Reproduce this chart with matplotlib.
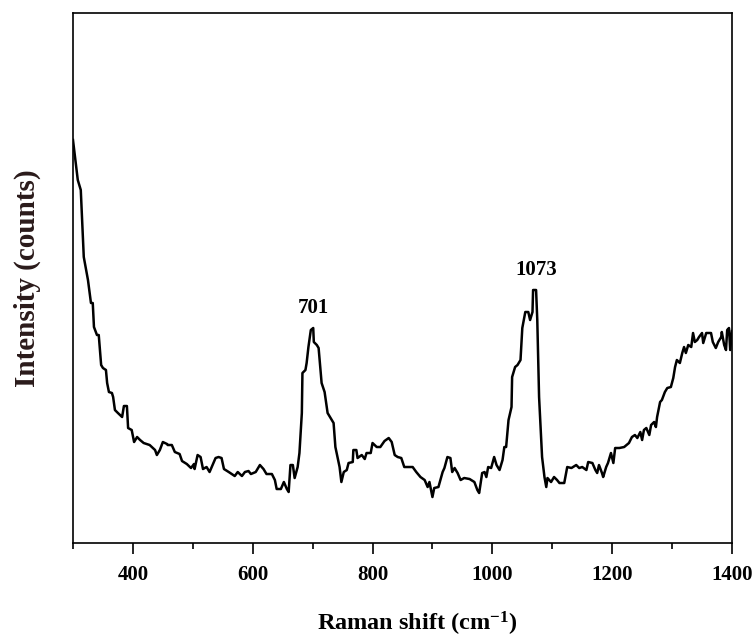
import matplotlib
matplotlib.use("Agg")
import matplotlib.pyplot as plt
from matplotlib.ticker import MultipleLocator

plt.rcParams['font.family'] = ['Liberation Serif', 'DejaVu Serif']
plt.rcParams['font.weight'] = 'bold'
plt.rcParams['mathtext.fontset'] = 'custom'
plt.rcParams['mathtext.rm'] = 'Liberation Serif:bold'
plt.rcParams['mathtext.it'] = 'Liberation Serif:bold'
plt.rcParams['mathtext.bf'] = 'Liberation Serif:bold'

# Raman spectrum (wavenumber in cm^-1, intensity in counts, arbitrary scale)
shift = [
    300, 308, 313, 318, 325, 330, 333, 335, 340, 343, 347, 350, 355, 357, 360,
    365, 367, 370, 375, 382, 385, 390, 392, 398, 402, 407, 412, 418, 428, 437,
    440, 445, 450, 457, 458, 465, 470, 478, 482, 490, 497, 502, 503, 508, 513,
    517, 523, 528, 533, 538, 543, 548, 552, 560, 570, 575, 582, 587, 593, 597,
    605, 612, 618, 623, 632, 637, 640, 647, 652, 657, 660, 663, 667, 670, 675,
    678, 682, 683, 688, 690, 693, 697, 701, 702, 707, 710, 715, 720, 725, 732,
    735, 738, 745, 748, 752, 757, 760, 767, 768, 773, 775, 782, 787, 790, 797,
    800, 807, 813, 820, 827, 832, 837, 842, 848, 853, 862, 867, 873, 880, 887,
    892, 895, 900, 903, 910, 917, 920, 925, 930, 933, 937, 942, 947, 953, 962,
    970, 975, 978, 983, 987, 990, 993, 998, 1003, 1007, 1012, 1017, 1020, 1023, 1027,
    1032, 1033, 1038, 1042, 1047, 1050, 1055, 1060, 1063, 1067, 1068, 1073, 1075, 1078, 1083,
    1087, 1090, 1092, 1098, 1103, 1108, 1112, 1120, 1125, 1132, 1140, 1145, 1150, 1157, 1160,
    1167, 1172, 1175, 1178, 1183, 1185, 1190, 1193, 1198, 1202, 1205, 1212, 1220, 1228, 1233,
    1238, 1242, 1247, 1250, 1253, 1257, 1262, 1265, 1270, 1273, 1275, 1280, 1283, 1288, 1292,
    1298, 1302, 1305, 1308, 1313, 1317, 1320, 1323, 1327, 1332, 1335, 1338, 1342, 1345, 1350,
    1352, 1357, 1365, 1368, 1373, 1377, 1382, 1383, 1387, 1390, 1392, 1395, 1397, 1400,
]
counts = [
    403, 363, 353, 286, 263, 240, 240, 216, 208, 208, 178, 175, 173, 160, 151,
    150, 146, 133, 130, 126, 137, 137, 115, 113, 101, 106, 103, 100, 98, 93,
    88, 93, 101, 99, 98, 98, 91, 89, 82, 79, 75, 79, 74, 88, 86,
    74, 76, 71, 78, 85, 86, 85, 74, 71, 67, 71, 67, 71, 72, 69,
    71, 78, 74, 69, 69, 63, 54, 54, 61, 54, 51, 78, 78, 65, 76,
    90, 130, 170, 173, 180, 196, 213, 215, 201, 198, 195, 160, 151, 130, 123,
    120, 96, 76, 61, 71, 73, 80, 81, 93, 93, 85, 88, 84, 90, 90,
    100, 96, 96, 102, 105, 101, 88, 86, 85, 76, 76, 76, 71, 66, 63,
    56, 61, 46, 55, 56, 71, 75, 86, 85, 71, 75, 70, 63, 65, 64,
    61, 53, 50, 70, 71, 66, 76, 75, 86, 78, 73, 83, 96, 96, 123,
    136, 166, 176, 178, 183, 215, 231, 231, 223, 231, 253, 253, 223, 146, 86,
    66, 56, 65, 61, 66, 63, 60, 60, 76, 75, 78, 75, 76, 73, 81,
    80, 73, 70, 78, 70, 66, 76, 80, 90, 80, 95, 95, 96, 100, 106,
    108, 105, 111, 103, 113, 115, 108, 118, 121, 116, 126, 141, 143, 151, 155,
    156, 165, 176, 183, 180, 190, 196, 190, 198, 196, 210, 201, 203, 206, 210,
    200, 210, 210, 201, 195, 201, 206, 211, 198, 193, 213, 215, 193, 212,
]

peak_labels = ['701', '1073']
peak_shift = [701, 1073]
peak_counts = [215, 253]

fig = plt.figure(figsize=(7.54, 6.39), dpi=100)
ax = fig.add_axes([0.0968, 0.1502, 0.874, 0.8295])

ax.plot(shift, counts, color='black', linewidth=1.8)

for lab, px, py in zip(peak_labels, peak_shift, peak_counts):
    ax.annotate(lab, xy=(px, py), xytext=(0, 7), textcoords='offset points',
                ha='center', va='bottom', fontsize=15, fontweight='bold')

ax.set_xlim(300, 1400)
ax.set_ylim(0, 530)
ax.xaxis.set_major_locator(MultipleLocator(200))
ax.xaxis.set_minor_locator(MultipleLocator(100))
ax.set_yticks([])
ax.tick_params(axis='x', which='major', direction='out', length=8, width=1.2,
               labelsize=15, pad=8)
ax.tick_params(axis='x', which='minor', direction='out', length=4, width=1.2)
for lab in ax.get_xticklabels():
    lab.set_fontweight('bold')
for sp in ax.spines.values():
    sp.set_linewidth(1.2)

ax.set_xlabel(r'Raman shift (cm$^{-1}$)', fontsize=17.5, fontweight='bold')
ax.xaxis.set_label_coords(0.523, -0.152)
ax.xaxis.label.set_va('center')
ax.set_ylabel('Intensity (counts)', fontsize=21, fontweight='bold', labelpad=23,
              color='#2a1a1a')

fig.savefig('out.png', dpi=100)
